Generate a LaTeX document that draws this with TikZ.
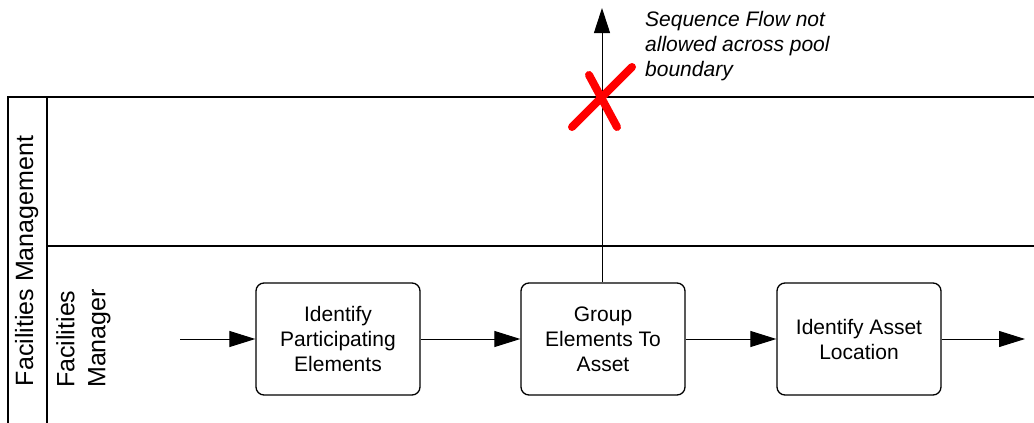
\documentclass[tikz,border=0pt]{standalone}
\usepackage{fontspec}
\setmainfont{Liberation Sans}
\usetikzlibrary{arrows.meta}

\tikzset{
  poolline/.style={draw=black, line width=1.1pt},
  task/.style={draw=black, line width=1.3pt, rounded corners=8pt,
    minimum width=164pt, minimum height=112pt, inner sep=0pt,
    align=center, font=\fontsize{21}{25}\selectfont},
  flow/.style={draw=black, line width=1pt,
    -{Triangle[length=26pt,width=16pt]}},
  lanelabel/.style={inner sep=0pt, rotate=90, font=\fontsize{25}{31}\selectfont},
  note/.style={inner sep=0pt, align=left, font=\fontsize{21}{25}\selectfont\itshape},
  forbid/.style={draw=red, line width=8pt, line cap=round}
}

\begin{document}
\begin{tikzpicture}[x=1pt, y=-1pt]
  \useasboundingbox (0,0) rectangle (1034,423);

  % pool and lane frame
  \draw[poolline] (8,424) -- (8,97) -- (1034,97);
  \draw[poolline] (47,97) -- (47,424);
  \draw[poolline] (47,246) -- (1034,246);

  % pool and lane labels
  \node[lanelabel, anchor=base] (pool) at (33,261) {Facilities Management};
  \node[lanelabel, anchor=north west, align=left] (lane) at (56,388) {Facilities\\Manager};

  % tasks
  \node[task] (t1) at (338,339) {Identify\\Participating\\Elements};
  \node[task] (t2) at (603,339) {Group\\Elements To\\Asset};
  \node[task] (t3) at (859,339) {Identify Asset\\Location};

  % free ends of the flows
  \coordinate (in)  at (180,339);
  \coordinate (out) at (1025,339);
  \coordinate (up)  at (602,8);

  % sequence flows
  \draw[flow] (in) -- (t1.west);
  \draw[flow] (t1.east) -- (t2.west);
  \draw[flow] (t2.east) -- (t3.west);
  \draw[flow] (t3.east) -- (out);
  \draw[flow, -{Triangle[length=25pt,width=16pt]}] (t2.north -| up) -- (up);

  % crossing mark on the pool boundary
  \coordinate (xa) at (572,127);
  \coordinate (xb) at (632,67);
  \coordinate (xc) at (589,75);
  \coordinate (xd) at (617,127);
  \draw[forbid] (xa) -- (xb);
  \draw[forbid] (xc) -- (xd);

  % annotation
  \node[note, anchor=north west] (msg) at (645,11)
    {Sequence Flow not\\allowed across pool\\boundary};
\end{tikzpicture}
\end{document}
